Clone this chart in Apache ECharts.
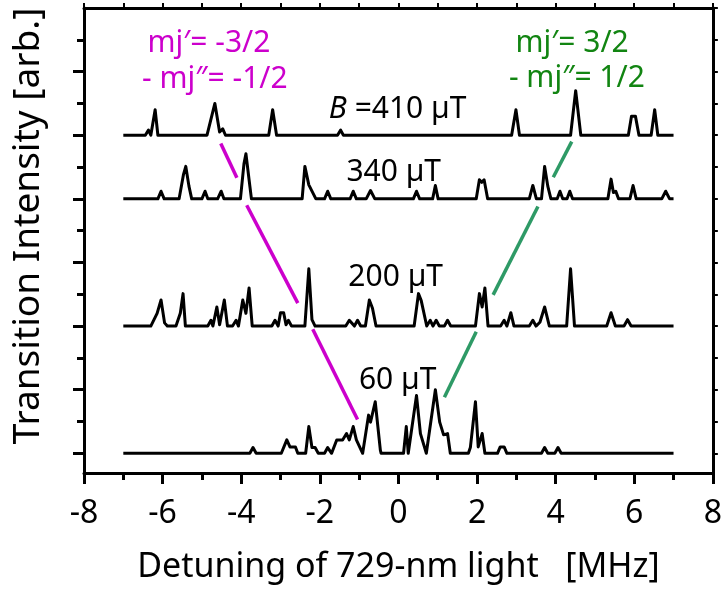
<!DOCTYPE html>
<html>
<head>
<meta charset="utf-8">
<script src="https://cdn.jsdelivr.net/npm/echarts@6/dist/echarts.min.js"></script>
<style>
html,body{margin:0;padding:0;background:#fff;}
#chart{width:725px;height:593px;}
</style>
</head>
<body>
<div id="chart"></div>
<script>
// ---- data (x in MHz, y = intensity above each trace's baseline) ----
var traceNames = ['60 µT', '200 µT', '340 µT', '410 µT'];
var traceOffsets = [0, 2, 4, 5];

var trace60 = [
  [-7,0],[-3.78,0],[-3.70,0.09],[-3.62,0],[-2.98,0],[-2.84,0.21],[-2.76,0.10],[-2.62,0.10],[-2.56,0],
  [-2.36,0],[-2.28,0.42],[-2.20,0.09],[-2.12,0.09],[-2.04,0],[-1.88,0],[-1.80,0.09],[-1.70,0],
  [-1.57,0.21],[-1.42,0.21],[-1.32,0.31],[-1.25,0.21],[-1.15,0.42],[-1.07,0.21],[-0.91,0],
  [-0.76,0.60],[-0.71,0.49],[-0.59,0.81],[-0.46,0.05],[-0.44,0],
  [0.13,0],[0.20,0.42],[0.25,0],[0.46,0.91],[0.56,0.31],[0.71,0],
  [0.94,1.00],[1.05,0.49],[1.15,0.29],[1.25,0.31],[1.32,0],
  [1.78,0],[1.83,0.09],[1.96,0.81],[2.03,0.10],[2.13,0.31],[2.20,0],
  [2.52,0],[2.59,0.10],[2.69,0.10],[2.76,0],
  [3.64,0],[3.72,0.09],[3.80,0],[3.98,0],[4.06,0.09],[4.14,0],[7,0]
];
var trace200 = [
  [-7,0],[-6.30,0],[-6.14,0.20],[-6.04,0.41],[-5.95,0.05],[-5.88,0],
  [-5.66,0],[-5.55,0.20],[-5.48,0.51],[-5.42,0],
  [-4.85,0],[-4.77,0.09],[-4.72,0],[-4.62,0.30],[-4.55,0.02],[-4.43,0.41],[-4.35,0],
  [-4.22,0],[-4.13,0.09],[-4.07,0],[-3.96,0.41],[-3.88,0.20],[-3.80,0.60],[-3.72,0],
  [-3.22,0],[-3.14,0.09],[-3.06,0],[-3.00,0.21],[-2.92,0.21],[-2.86,0.02],[-2.80,0.09],[-2.72,0],
  [-2.38,0],[-2.28,0.90],[-2.20,0.10],[-2.12,0],
  [-1.34,0],[-1.25,0.09],[-1.12,0],[-1.04,0.09],[-0.96,0],[-0.84,0],[-0.74,0.41],[-0.66,0.28],[-0.57,0],
  [0.40,0],[0.51,0.51],[0.58,0.40],[0.72,0],[0.81,0.09],[0.88,0],[0.96,0.09],[1.04,0],
  [1.17,0],[1.25,0.09],[1.33,0],
  [1.96,0],[2.06,0.51],[2.13,0.30],[2.20,0.60],[2.28,0],
  [2.60,0],[2.69,0.09],[2.76,0],[2.86,0.21],[2.94,0],
  [3.33,0],[3.42,0.09],[3.50,0],[3.60,0.06],[3.72,0.30],[3.84,0],
  [4.28,0],[4.38,0.90],[4.48,0],
  [5.30,0],[5.41,0.21],[5.52,0],[5.74,0],[5.83,0.10],[5.92,0],[7,0]
];
var trace340 = [
  [-7,0],[-6.12,0],[-6.04,0.12],[-5.96,0],
  [-5.58,0],[-5.47,0.38],[-5.41,0.51],[-5.33,0.20],[-5.26,0],
  [-5.00,0],[-4.92,0.12],[-4.85,0],[-4.60,0],[-4.51,0.12],[-4.44,0],
  [-4.02,0],[-3.93,0.55],[-3.88,0.71],[-3.80,0.30],[-3.74,0],
  [-2.45,0],[-2.38,0.51],[-2.28,0.22],[-2.10,0],
  [-1.88,0],[-1.80,0.12],[-1.72,0],[-1.23,0],[-1.15,0.12],[-1.07,0],
  [-0.82,0],[-0.71,0.13],[-0.60,0],[0.38,0],[0.46,0.12],[0.54,0],
  [0.87,0],[0.94,0.21],[1.01,0],
  [1.98,0],[2.06,0.30],[2.12,0.26],[2.18,0.30],[2.27,0],
  [3.33,0],[3.42,0.21],[3.51,0],[3.64,0],[3.72,0.51],[3.80,0.20],[3.88,0],
  [4.04,0],[4.11,0.12],[4.18,0],[4.29,0],[4.36,0.12],[4.43,0],
  [5.33,0],[5.41,0.31],[5.47,0.10],[5.53,0.12],[5.60,0],
  [5.89,0],[5.97,0.21],[6.05,0],[6.70,0],[6.80,0.12],[6.90,0],[7,0]
];
var trace410 = [
  [-7,0],[-6.44,0],[-6.36,0.08],[-6.30,0],[-6.26,0],[-6.19,0.40],[-6.12,0],
  [-4.87,0],[-4.67,0.50],[-4.55,0.05],[-4.47,0.10],[-4.40,0],
  [-3.30,0],[-3.20,0.40],[-3.10,0],[-1.55,0],[-1.47,0.08],[-1.40,0],
  [2.88,0],[2.99,0.40],[3.08,0],[4.38,0],[4.51,0.70],[4.64,0],
  [5.85,0],[5.93,0.30],[6.03,0.30],[6.12,0],[6.43,0],[6.52,0.40],[6.60,0],[7,0]
];
var traces = [trace60, trace200, trace340, trace410];

// guide lines (x in MHz, y in axis units)
var pinkSegments = [
  [[-4.52,4.87],[-4.11,4.33]],
  [[-3.86,3.90],[-2.56,2.36]],
  [[-2.18,1.95],[-1.04,0.53]]
];
var greenSegments = [
  [[4.41,4.90],[3.94,4.34]],
  [[3.55,3.88],[2.41,2.49]],
  [[1.98,1.91],[1.17,0.88]]
];

// annotations: [x, y, text] (anchored at text centre)
var pinkLabels = [[-4.82,6.45,'mj′= -3/2'],[-4.67,5.87,'- mj″= -1/2']];
var greenLabels = [[4.42,6.45,'mj′= 3/2'],[4.54,5.90,'- mj″= 1/2']];
var fieldLabels = [[-0.02,5.40,'{i|B} =410 µT'],[-0.12,4.42,'340 µT'],[-0.07,2.77,'200 µT'],[-0.02,1.15,'60 µT']];

var xTickValues = [-8,-6,-4,-2,0,2,4,6,8];
var yMajorTicks = [0,1,2,3,4,5,6];
var yMinorTicks = [0.5,1.5,2.5,3.5,4.5,5.5,6.5];
var yRightTicks = [0,0.5,1,1.5,2,2.5,3,3.5,4,4.5,5,5.5,6,6.5,7];

// ---- chart ----
var FONT = '"Noto Sans", "Open Sans", sans-serif';
var PINK = '#cc00cc';
var GREEN_LINE = '#2e9a66';
var GREEN_TEXT = '#128512';
var YMIN = -0.31, YMAX = 7;

var series = [];
traces.forEach(function (t, i) {
  series.push({
    type: 'line', name: traceNames[i], xAxisIndex: 0, yAxisIndex: 0,
    data: t.map(function (p) { return [p[0], p[1] + traceOffsets[i]]; }),
    showSymbol: false, symbol: 'none', animation: false, z: 3,
    lineStyle: { color: '#000', width: 3, join: 'round' }
  });
});
pinkSegments.forEach(function (s) {
  series.push({ type: 'line', data: s, showSymbol: false, symbol: 'none', animation: false, z: 2,
    lineStyle: { color: PINK, width: 3.5, cap: 'butt' } });
});
greenSegments.forEach(function (s) {
  series.push({ type: 'line', data: s, showSymbol: false, symbol: 'none', animation: false, z: 2,
    lineStyle: { color: GREEN_LINE, width: 3.5, cap: 'butt' } });
});

var chart = echarts.init(document.getElementById('chart'), null, { renderer: 'canvas' });
chart.setOption({
  backgroundColor: '#fff',
  animation: false,
  grid: { left: 84, right: 11.5, top: 8, bottom: 120, containLabel: false },
  xAxis: [
    {
      type: 'value', position: 'bottom', min: -8, max: 8, interval: 2,
      axisLine: { show: true, onZero: false, lineStyle: { color: '#000', width: 3 } },
      axisTick: { show: true, inside: false, length: 11, lineStyle: { color: '#000', width: 3 } },
      minorTick: { show: true, splitNumber: 2, length: 7, lineStyle: { color: '#000', width: 3 } },
      splitLine: { show: false },
      axisLabel: { show: true, fontSize: 32, color: '#000', fontFamily: FONT, margin: 25,
        formatter: function (v) { return xTickValues.indexOf(v) >= 0 ? String(v) : ''; } },
      name: 'Detuning of 729-nm light   [MHz]', nameLocation: 'middle', nameGap: 77,
      nameTextStyle: { fontSize: 34, color: '#000', fontFamily: FONT }
    },
    {
      type: 'value', position: 'top', min: -8, max: 8, interval: 1,
      axisLine: { show: true, onZero: false, lineStyle: { color: '#000', width: 3 } },
      axisTick: { show: true, inside: false, length: 5, lineStyle: { color: '#000', width: 2 } },
      axisLabel: { show: false }, splitLine: { show: false }
    }
  ],
  yAxis: [
    {
      type: 'value', position: 'left', min: YMIN, max: YMAX,
      axisLine: { show: true, onZero: false, lineStyle: { color: '#000', width: 3 } },
      axisTick: { show: true, inside: false, length: 11, customValues: yMajorTicks, lineStyle: { color: '#000', width: 3 } },
      axisLabel: { show: false, customValues: yMajorTicks }, splitLine: { show: false }
    },
    {
      type: 'value', position: 'left', min: YMIN, max: YMAX,
      axisLine: { show: false, onZero: false },
      axisTick: { show: true, inside: false, length: 7, customValues: yMinorTicks, lineStyle: { color: '#000', width: 3 } },
      axisLabel: { show: false, customValues: yMinorTicks }, splitLine: { show: false }
    },
    {
      type: 'value', position: 'right', min: YMIN, max: YMAX,
      axisLine: { show: true, onZero: false, lineStyle: { color: '#000', width: 3 } },
      axisTick: { show: true, inside: false, length: 5, customValues: yRightTicks, lineStyle: { color: '#000', width: 2 } },
      axisLabel: { show: false, customValues: yRightTicks }, splitLine: { show: false }
    }
  ],
  series: series
});

// annotations as text placed through the axes' own scale
function textEl(l, color) {
  var p = chart.convertToPixel({ xAxisIndex: 0, yAxisIndex: 0 }, [l[0], l[1]]);
  var isRich = l[2].indexOf('{i|') >= 0;
  var style = {
    text: l[2], fill: color, font: '30px ' + FONT,
    textAlign: 'center', textVerticalAlign: 'middle'
  };
  if (isRich) {
    style.rich = { i: { fontStyle: 'italic', fontSize: 30, fontFamily: FONT, fill: color } };
  }
  return { type: 'text', x: p[0], y: p[1], z: 10, silent: true, style: style };
}
var graphics = [];
pinkLabels.forEach(function (l) { graphics.push(textEl(l, PINK)); });
greenLabels.forEach(function (l) { graphics.push(textEl(l, GREEN_TEXT)); });
fieldLabels.forEach(function (l) { graphics.push(textEl(l, '#000')); });
graphics.push({
  type: 'text', x: 28, y: 226, rotation: Math.PI / 2, z: 10, silent: true,
  style: { text: 'Transition Intensity [arb.]', fill: '#000', font: '37px ' + FONT,
    textAlign: 'center', textVerticalAlign: 'middle' }
});
chart.setOption({ graphic: graphics });
</script>
</body>
</html>
